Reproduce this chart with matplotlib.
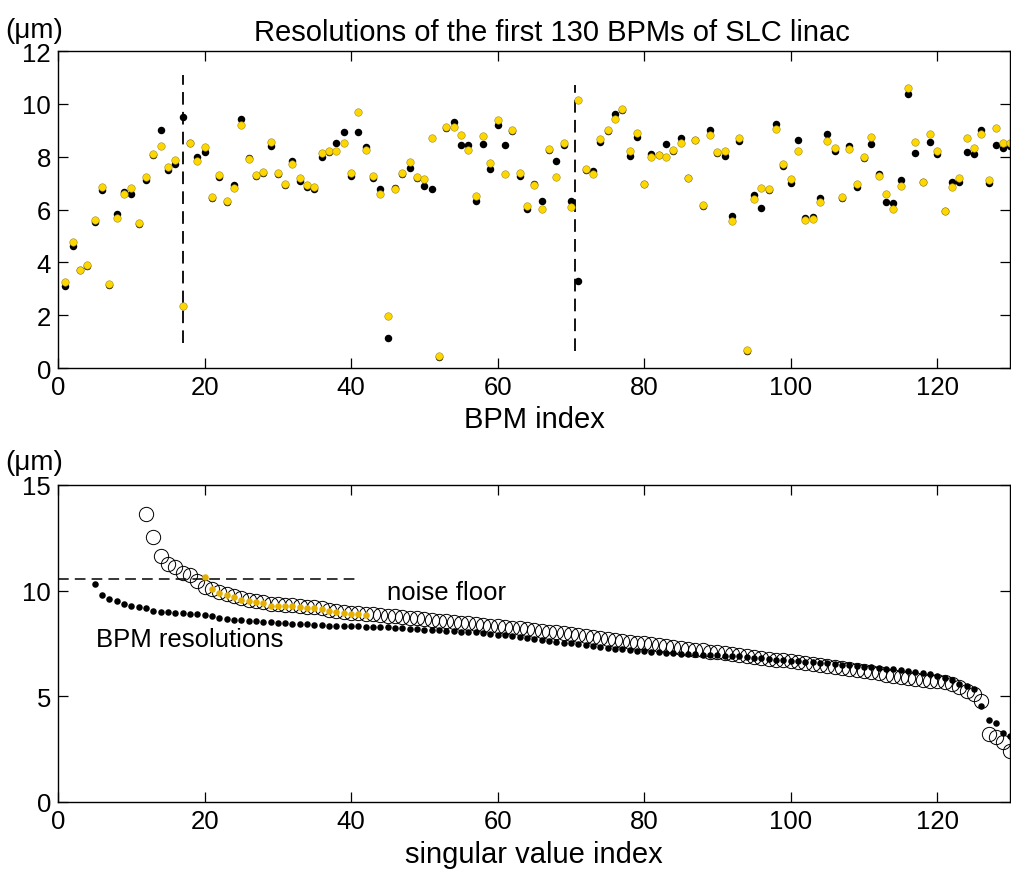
import numpy as np
import matplotlib
matplotlib.use("Agg")
import matplotlib.pyplot as plt

plt.rcParams['font.family'] = ['Liberation Sans', 'DejaVu Sans']

# ---- top panel: resolutions of the first 130 BPMs (two estimates) ----
bpm_index = np.arange(1, 131)
res_black = [3.12, 4.61, 3.70, 3.88, 5.52, 6.74, 3.15, 5.82, 6.65, 6.59,
             5.44, 7.12, 8.05, 9.02, 7.50, 7.74, 9.51, 8.50, 7.97, 8.19,
             6.45, 7.25, 6.30, 6.91, 9.41, 7.95, 7.28, 7.40, 8.42, 7.33,
             6.91, 7.83, 7.07, 6.84, 6.77, 7.99, 8.18, 8.50, 8.93, 7.28,
             8.93, 8.37, 7.18, 6.78, 1.12, 6.80, 7.35, 7.59, 7.20, 6.89,
             6.77, 0.42, 9.10, 9.31, 8.46, 8.46, 6.33, 8.48, 7.55, 9.20,
             8.45, 8.98, 7.28, 6.02, 6.96, 6.34, 8.25, 7.82, 8.45, 6.34,
             3.28, 7.50, 7.44, 8.57, 8.98, 9.63, 9.75, 8.02, 8.75, 6.95,
             8.11, 8.05, 8.48, 8.22, 8.70, 7.18, 8.62, 6.15, 9.00, 8.15,
             8.04, 5.75, 8.59, 0.63, 6.54, 6.06, 6.75, 9.25, 7.64, 7.01,
             8.62, 5.69, 5.73, 6.43, 8.86, 8.21, 6.45, 8.40, 6.86, 7.95,
             8.47, 7.35, 6.30, 6.26, 7.12, 10.37, 8.13, 7.05, 8.56, 8.09,
             5.95, 7.03, 7.03, 8.18, 8.12, 9.02, 7.01, 8.45, 8.32, 8.40]
res_yellow = [3.27, 4.76, 3.72, 3.90, 5.62, 6.87, 3.19, 5.67, 6.59, 6.82,
              5.49, 7.25, 8.11, 8.40, 7.61, 7.89, 2.35, 8.53, 7.82, 8.37,
              6.48, 7.31, 6.33, 6.81, 9.19, 7.92, 7.31, 7.42, 8.57, 7.37,
              6.96, 7.71, 7.18, 6.94, 6.87, 8.14, 8.22, 8.22, 8.51, 7.39,
              9.68, 8.27, 7.28, 6.59, 1.97, 6.77, 7.37, 7.79, 7.25, 7.15,
              8.71, 0.44, 9.13, 9.13, 8.84, 8.24, 6.50, 8.80, 7.78, 9.38,
              7.36, 9.00, 7.40, 6.12, 6.91, 6.02, 8.28, 7.24, 8.50, 6.11,
              10.16, 7.52, 7.34, 8.67, 9.00, 9.43, 9.79, 8.22, 8.88, 6.96,
              7.97, 8.08, 8.00, 8.24, 8.52, 7.20, 8.65, 6.16, 8.83, 8.18,
              8.21, 5.57, 8.72, 0.67, 6.41, 6.83, 6.77, 9.04, 7.74, 7.16,
              8.22, 5.59, 5.63, 6.28, 8.59, 8.32, 6.46, 8.31, 6.97, 7.98,
              8.75, 7.27, 6.60, 6.03, 6.88, 10.59, 8.56, 7.06, 8.86, 8.22,
              5.96, 6.87, 7.18, 8.69, 8.33, 8.86, 7.12, 9.08, 8.52, 8.50]
# dashed markers: (x, y_low, y_high)
marker_lines = [(17.0, 0.95, 11.1), (70.6, 0.65, 10.7)]

# ---- bottom panel: sorted resolutions vs singular values ----
sorted_idx = np.arange(5, 131)
sorted_res = [10.32, 9.80, 9.61, 9.50, 9.37, 9.27, 9.21, 9.17, 9.05, 8.98,
              8.98, 8.96, 8.94, 8.91, 8.91, 8.86, 8.80, 8.72, 8.66, 8.63,
              8.60, 8.58, 8.55, 8.53, 8.50, 8.47, 8.45, 8.43, 8.42, 8.40,
              8.38, 8.37, 8.35, 8.34, 8.33, 8.32, 8.31, 8.30, 8.29, 8.28,
              8.26, 8.24, 8.22, 8.20, 8.18, 8.16, 8.14, 8.12, 8.10, 8.08,
              8.06, 8.04, 8.02, 8.00, 7.97, 7.92, 7.89, 7.86, 7.80, 7.76,
              7.72, 7.66, 7.62, 7.58, 7.54, 7.50, 7.47, 7.43, 7.39, 7.35,
              7.30, 7.25, 7.22, 7.19, 7.16, 7.13, 7.10, 7.08, 7.06, 7.04,
              7.02, 7.00, 6.98, 6.97, 6.96, 6.95, 6.93, 6.91, 6.89, 6.86,
              6.83, 6.80, 6.77, 6.74, 6.72, 6.69, 6.66, 6.63, 6.61, 6.58,
              6.56, 6.53, 6.50, 6.48, 6.45, 6.40, 6.37, 6.34, 6.31, 6.27,
              6.23, 6.19, 6.14, 6.10, 6.06, 5.98, 5.88, 5.76, 5.60, 5.48,
              5.36, 4.56, 3.88, 3.72, 3.25, 3.10]
sv_idx = np.arange(12, 131)
sv_vals = [13.63, 12.53, 11.63, 11.27, 11.11, 10.82, 10.74, 10.47, 10.16, 10.08,
           9.93, 9.85, 9.75, 9.65, 9.57, 9.52, 9.45, 9.38, 9.35, 9.32,
           9.30, 9.28, 9.25, 9.22, 9.18, 9.10, 9.04, 9.00, 8.96, 8.93,
           8.91, 8.88, 8.85, 8.82, 8.79, 8.76, 8.72, 8.69, 8.65, 8.62,
           8.58, 8.55, 8.52, 8.49, 8.45, 8.42, 8.38, 8.34, 8.31, 8.28,
           8.24, 8.21, 8.17, 8.14, 8.10, 8.06, 8.02, 7.98, 7.94, 7.90,
           7.86, 7.82, 7.77, 7.73, 7.66, 7.62, 7.58, 7.54, 7.50, 7.46,
           7.42, 7.38, 7.34, 7.29, 7.25, 7.21, 7.17, 7.12, 7.08, 7.04,
           7.00, 6.95, 6.91, 6.87, 6.83, 6.78, 6.74, 6.70, 6.65, 6.61,
           6.56, 6.52, 6.48, 6.43, 6.39, 6.35, 6.30, 6.26, 6.21, 6.15,
           6.09, 6.02, 5.95, 5.90, 5.85, 5.81, 5.78, 5.74, 5.71, 5.66,
           5.58, 5.43, 5.27, 5.11, 4.79, 3.21, 3.06, 2.82, 2.40]
floor_idx = np.arange(20, 43)
floor_vals = [10.63, 10.08, 9.88, 9.80, 9.69, 9.58, 9.51, 9.48, 9.40, 9.29,
              9.29, 9.27, 9.26, 9.24, 9.20, 9.18, 9.13, 9.04, 8.98, 8.93,
              8.90, 8.88, 8.86]
noise_floor = 10.55

fig = plt.figure(figsize=(10.11, 8.79), dpi=100)
ax1 = fig.add_axes([0.0574, 0.5802, 0.9421, 0.3606])
ax2 = fig.add_axes([0.0574, 0.0865, 0.9421, 0.3606])

tick_fs = 18.5
label_fs = 21
note_fs = 18.5
for ax in (ax1, ax2):
    ax.tick_params(direction='in', length=7, width=0.9, top=True, right=True,
                   labelsize=tick_fs, pad=5)
    for s in ax.spines.values():
        s.set_linewidth(1.0)

# top
for x, y0, y1 in marker_lines:
    ax1.plot([x, x], [y0, y1], color='black', linestyle=(0, (7, 4)), linewidth=1.3)
ax1.plot(bpm_index, res_black, 'o', color='black', markersize=5.4, markeredgewidth=0)
ax1.plot(bpm_index, res_yellow, 'o', color='#FFD700', markersize=5.4,
         markeredgecolor='#A08A20', markeredgewidth=0.4)
ax1.set_xlim(0, 130)
ax1.set_ylim(0, 12)
ax1.set_xticks(range(0, 130, 20))
ax1.set_yticks(range(0, 13, 2))
ax1.set_xlabel('BPM index', fontsize=label_fs, labelpad=4)
ax1.set_title('Resolutions of the first 130 BPMs of SLC linac', fontsize=label_fs,
              pad=8, x=0.519)
fig.text(0.005, 0.965, '(μm)', fontsize=20, ha='left', va='center')

# bottom
ax2.plot([0, 41], [noise_floor, noise_floor], color='black',
         linestyle=(0, (7, 4)), linewidth=1.1)
ax2.plot(sv_idx, sv_vals, 'o', markerfacecolor='none', markeredgecolor='black',
         markersize=10.3, markeredgewidth=0.7)
ax2.plot(sorted_idx, sorted_res, 'o', color='black', markersize=4.7, markeredgewidth=0)
ax2.plot(floor_idx, floor_vals, 'o', color='#E5B000', markersize=4.7, markeredgewidth=0)
ax2.text(44.9, 9.93, 'noise floor', fontsize=note_fs, ha='left', va='center')
ax2.text(5.2, 7.71, 'BPM resolutions', fontsize=note_fs, ha='left', va='center')
ax2.set_xlim(0, 130)
ax2.set_ylim(0, 15)
ax2.set_xticks(range(0, 130, 20))
ax2.set_yticks([0, 5, 10, 15])
ax2.set_xlabel('singular value index', fontsize=label_fs, labelpad=5)
fig.text(0.005, 0.473, '(μm)', fontsize=20, ha='left', va='center')

fig.savefig('out.png', dpi=100)
